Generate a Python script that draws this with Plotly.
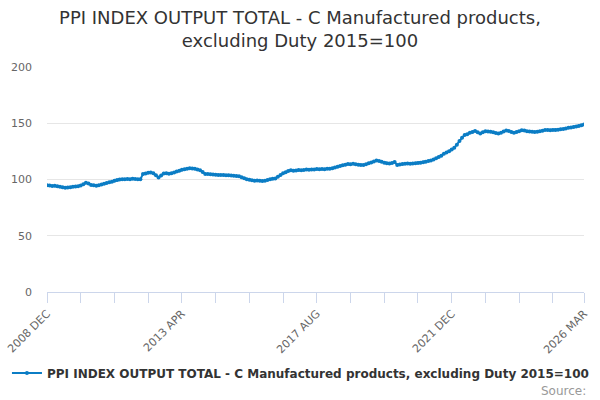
import pandas as pd
import plotly.graph_objects as go

# Monthly index values, Dec 2008 .. Mar 2026 (2015=100)
ppi_2008 = [94.8]
ppi_2009 = [94.6, 94.3, 94.5, 94.0, 93.6, 93.2, 92.6, 92.8, 93.1, 93.5, 93.8, 94.0]
ppi_2010 = [94.6, 95.8, 97.2, 96.4, 95.2, 94.8, 94.5, 95.0, 95.6, 96.2, 96.8, 97.5]
ppi_2011 = [98.0, 98.8, 99.6, 100.1, 100.3, 100.2, 100.5, 100.3, 100.6, 100.4, 100.2, 100.3]
ppi_2012 = [104.8, 105.4, 106.0, 106.2, 105.6, 103.8, 101.8, 103.6, 105.3, 105.6, 105.2, 105.6]
ppi_2013 = [106.3, 107.2, 107.8, 108.6, 109.1, 109.6, 110.1, 109.8, 109.5, 108.9, 108.3, 106.6]
ppi_2014 = [105.0, 104.8, 104.6, 104.5, 104.3, 104.1, 104.0, 103.9, 103.7, 103.8, 103.6, 103.4]
ppi_2015 = [103.2, 102.8, 102.0, 101.2, 100.2, 99.8, 99.4, 99.0, 99.2, 98.9, 98.6, 99.0]
ppi_2016 = [99.6, 100.2, 100.6, 101.0, 102.4, 104.0, 105.5, 106.5, 107.6, 108.3, 107.8, 108.0]
ppi_2017 = [108.4, 108.2, 108.5, 108.8, 108.6, 108.9, 109.0, 109.3, 109.1, 109.4, 109.2, 109.5]
ppi_2018 = [109.6, 110.0, 110.6, 111.3, 112.0, 112.6, 113.2, 113.8, 113.6, 113.9, 113.5, 113.2]
ppi_2019 = [113.0, 112.9, 113.6, 114.4, 115.2, 116.0, 116.8, 116.5, 115.8, 115.0, 114.4, 114.2]
ppi_2020 = [114.6, 115.5, 113.0, 113.4, 113.8, 114.0, 114.2, 113.9, 114.3, 114.5, 114.7, 114.9]
ppi_2021 = [115.3, 115.8, 116.4, 116.9, 117.8, 118.9, 120.0, 121.2, 123.0, 124.0, 125.2, 126.6]
ppi_2022 = [128.2, 130.8, 134.2, 137.2, 139.6, 140.3, 141.5, 142.3, 143.2, 142.0, 140.8, 142.0]
ppi_2023 = [143.0, 142.6, 142.4, 141.9, 141.3, 140.8, 141.6, 142.6, 143.6, 143.2, 142.2, 141.5]
ppi_2024 = [142.2, 143.0, 143.8, 143.5, 143.0, 142.7, 142.5, 142.2, 142.4, 142.8, 143.4, 143.9]
ppi_2025 = [144.0, 143.7, 143.9, 144.1, 144.3, 144.6, 145.0, 145.4, 145.9, 146.3, 146.7, 147.1]
ppi_2026 = [147.6, 148.2, 148.9]

values = (ppi_2008 + ppi_2009 + ppi_2010 + ppi_2011 + ppi_2012 + ppi_2013
          + ppi_2014 + ppi_2015 + ppi_2016 + ppi_2017 + ppi_2018 + ppi_2019
          + ppi_2020 + ppi_2021 + ppi_2022 + ppi_2023 + ppi_2024 + ppi_2025
          + ppi_2026)

months = [d.strftime("%Y %b").upper() for d in pd.date_range("2008-12-01", "2026-03-01", freq="MS")]

labelled = ["2008 DEC", "2013 APR", "2017 AUG", "2021 DEC", "2026 MAR"]
tick_cats = months[::13] + [months[-1]]
tick_text = [m if m in labelled else "" for m in tick_cats]

series_name = "PPI INDEX OUTPUT TOTAL - C Manufactured products, excluding Duty 2015=100"
blue = "#0b7dc5"

fig = go.Figure()
fig.add_trace(
    go.Scatter(
        x=months, y=values,
        mode="lines+markers",
        name=series_name,
        line=dict(color=blue, width=2),
        marker=dict(color=blue, size=4),
    )
)

fig.update_layout(
    width=600, height=400,
    paper_bgcolor="white", plot_bgcolor="white",
    font=dict(family="DejaVu Sans", color="#666666", size=11),
    title=dict(
        text="PPI INDEX OUTPUT TOTAL - C Manufactured products,<br>excluding Duty 2015=100",
        x=0.5, xanchor="center", y=0.94, yanchor="top",
        font=dict(size=18, color="#333333"),
        automargin=False,
    ),
    margin=dict(l=47, r=16, t=67, b=108),
    showlegend=True,
    legend=dict(
        orientation="h", x=0.472, xanchor="center", y=-0.36, yanchor="middle",
        font=dict(size=12, color="#333333", weight="bold"),
    ),
)

fig.update_xaxes(
    type="category", range=[0, len(months) - 1], automargin=False,
    tickmode="array", tickvals=tick_cats, ticktext=tick_text,
    tickangle=-45, ticks="outside", ticklen=10, tickcolor="#ccd6eb",
    showline=True, linecolor="#ccd6eb", linewidth=1,
    showgrid=False, zeroline=False,
    tickfont=dict(size=11, color="#666666"),
)
fig.update_yaxes(
    range=[0, 200], dtick=50, automargin=False,
    showgrid=True, gridcolor="#e6e6e6", zeroline=False,
    showline=False, ticks="", ticklabelstandoff=14,
    tickfont=dict(size=11, color="#666666"),
)

fig.add_annotation(
    text="Source:", xref="paper", yref="paper",
    x=1.0, xanchor="right", xshift=4, y=-0.44, yanchor="middle",
    showarrow=False, font=dict(size=12, color="#999999"),
)

# page body has a default 8px margin; drop it so the figure sits at 0,0
fig.write_html(
    "out.html",
    config={"displayModeBar": False},
    post_script="document.body.style.margin='0';",
)
